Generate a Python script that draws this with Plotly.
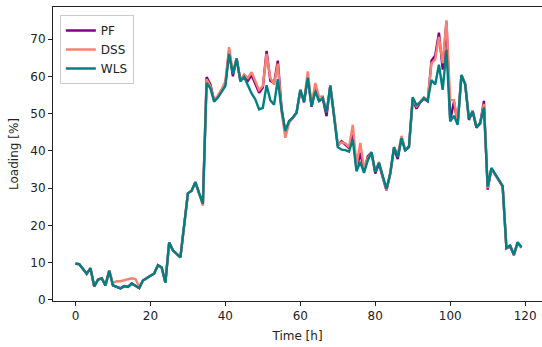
import plotly.graph_objects as go

# Hourly loading over five days (hours 0..119)
hours = list(range(120))

wls = [
    9.7, 9.6, 8.3, 7.0, 8.5, 3.6, 5.4, 5.8, 3.9, 7.8,
    3.9, 3.5, 3.1, 3.7, 3.5, 4.4, 3.8, 3.2, 5.2, 5.9,
    6.4, 7.1, 9.3, 8.7, 4.6, 15.4, 13.3, 12.4, 11.4, 20.0,
    28.6, 29.3, 31.6, 28.6, 25.8, 58.2, 56.8, 53.2, 54.3, 55.8,
    57.4, 66.0, 60.6, 64.8, 58.6, 59.8, 57.6, 55.4, 53.8, 51.1,
    51.5, 57.6, 53.6, 52.4, 59.2, 51.0, 45.4, 48.0, 48.9, 50.3,
    56.4, 53.3, 59.6, 52.0, 56.0, 53.3, 54.2, 50.2, 57.5, 50.0,
    41.0, 40.3, 40.2, 39.8, 43.0, 34.5, 37.0, 34.1, 37.4, 39.6,
    34.3, 36.8, 33.6, 29.8, 34.0, 41.0, 38.3, 43.4, 40.0, 41.2,
    54.4, 52.3, 53.0, 54.2, 53.4, 59.0, 57.8, 63.1, 56.4, 67.1,
    47.9, 49.4, 47.0, 60.4, 57.8, 48.6, 50.6, 46.3, 47.5, 51.6,
    30.4, 35.4, 33.8, 32.0, 30.6, 14.0, 14.6, 12.2, 15.5, 14.2,
]

pf = [
    9.7, 9.6, 8.3, 7.0, 8.5, 3.6, 5.4, 5.8, 3.9, 7.8,
    3.9, 3.5, 3.1, 3.7, 3.5, 4.4, 3.8, 3.2, 5.2, 5.9,
    6.4, 7.1, 9.3, 8.7, 4.6, 15.4, 13.3, 12.4, 11.4, 20.0,
    28.6, 29.3, 31.6, 28.6, 26.0, 59.8, 57.8, 53.5, 54.5, 56.2,
    58.0, 67.0, 60.0, 64.8, 59.0, 60.2, 58.8, 60.3, 58.0, 55.6,
    57.0, 66.8, 58.8, 58.2, 64.2, 51.5, 44.8, 47.8, 48.9, 50.2,
    56.2, 53.0, 59.8, 51.8, 56.5, 53.5, 54.0, 49.3, 57.5, 50.0,
    41.4, 42.6, 41.6, 40.7, 45.0, 35.0, 39.5, 34.5, 38.5, 39.6,
    33.9, 36.5, 32.8, 29.4, 33.8, 40.6, 37.8, 43.5, 40.2, 41.0,
    53.8, 51.3, 53.0, 54.0, 53.3, 64.2, 65.6, 71.7, 61.8, 74.7,
    48.2, 53.2, 47.2, 60.3, 58.0, 48.3, 50.6, 46.2, 47.3, 53.4,
    29.6, 35.2, 33.6, 31.8, 30.4, 13.8, 14.4, 12.0, 15.3, 14.0,
]

dss = [
    9.7, 9.6, 8.3, 7.0, 8.5, 3.6, 5.4, 5.8, 3.9, 7.8,
    4.5, 5.0, 5.0, 5.3, 5.6, 5.8, 5.6, 3.6, 5.2, 5.9,
    6.4, 7.1, 9.3, 8.7, 4.6, 15.4, 13.3, 12.4, 11.4, 20.0,
    28.6, 29.3, 31.6, 28.6, 25.3, 59.2, 57.3, 53.6, 54.8, 56.6,
    58.6, 67.8, 61.0, 64.8, 58.8, 60.5, 59.5, 61.1, 58.6, 56.3,
    57.4, 66.0, 59.6, 57.8, 63.4, 50.5, 43.5, 47.5, 48.8, 50.3,
    56.0, 53.5, 61.3, 52.5, 58.2, 54.5, 54.6, 50.5, 57.3, 50.2,
    41.6, 42.3, 42.0, 41.0, 47.0, 36.0, 42.1, 35.5, 38.0, 39.6,
    34.5, 37.0, 33.0, 29.5, 34.0, 41.0, 39.0, 44.0, 40.5, 41.2,
    54.0, 52.0, 53.2, 54.3, 53.5, 63.5, 64.5, 70.6, 63.5, 75.0,
    53.6, 53.6, 47.5, 60.2, 58.2, 48.6, 50.8, 46.5, 47.5, 52.6,
    30.0, 35.3, 33.7, 31.9, 30.5, 13.9, 14.5, 12.1, 15.4, 14.1,
]

series = [
    ("PF", pf, "#800080"),
    ("DSS", dss, "#FA8072"),
    ("WLS", wls, "#008080"),
]

x_ticks = [0, 20, 40, 60, 80, 100, 120]
y_ticks = [0, 10, 20, 30, 40, 50, 60, 70]

FONT = "DejaVu Sans"
FS = 12

fig = go.Figure()
for name, values, color in series:
    fig.add_trace(go.Scatter(
        x=hours, y=values, mode="lines", name=name,
        line=dict(color=color, width=2.4),
    ))

axis_common = dict(
    showgrid=False, zeroline=False,
    showline=True, linecolor="#222", linewidth=1,
    ticks="outside", ticklen=4, tickwidth=1, tickcolor="#222",
    tickfont=dict(family=FONT, size=FS, color="#222"),
)

fig.update_layout(
    width=542, height=347,
    margin=dict(l=53, r=0, t=7, b=46),
    paper_bgcolor="white", plot_bgcolor="white",
    font=dict(family=FONT, size=FS, color="#222"),
    showlegend=True,
    legend=dict(
        x=0.014, y=0.973, xanchor="left", yanchor="top",
        bgcolor="rgba(255,255,255,0.8)", bordercolor="#cccccc", borderwidth=1,
        font=dict(family=FONT, size=FS, color="#222"),
        tracegroupgap=0,
    ),
    xaxis=dict(
        range=[-6, 124.5], tickvals=x_ticks, mirror=True,
        title=dict(text="Time [h]", font=dict(family=FONT, size=FS, color="#222"), standoff=9),
        **axis_common,
    ),
    yaxis=dict(
        range=[-0.3, 78.6], tickvals=y_ticks,
        title=dict(text="Loading [%]", font=dict(family=FONT, size=FS, color="#222"), standoff=9),
        **axis_common,
    ),
)

fig.write_html("out.html")
